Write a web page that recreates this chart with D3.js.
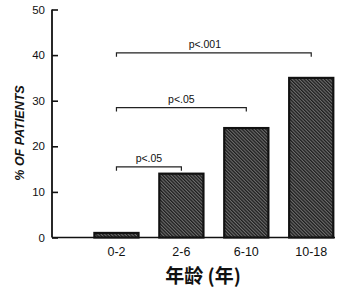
<!DOCTYPE html>
<html><head><meta charset="utf-8">
<script src="https://cdn.jsdelivr.net/npm/d3@7"></script>
<style>body{margin:0;background:#fff}svg{display:block}</style>
</head><body>
<script>
const categories = ["0-2","2-6","6-10","10-18"];
const values = [1, 14, 24, 35];
const yTicks = [0,10,20,30,40,50];
const comparisons = [
  {from:"0-2", to:"2-6", label:"p<.05", level:15.5},
  {from:"0-2", to:"6-10", label:"p<.05", level:28.5},
  {from:"0-2", to:"10-18", label:"p<.001", level:40.5}
];
const xTitle = "年龄 (年)";
const yTitle = "% OF PATIENTS";

const W=347,H=300;
const svg=d3.select("body").append("svg").attr("width",W).attr("height",H);
const defs=svg.append("defs");
const pat=defs.append("pattern").attr("id","hatch").attr("patternUnits","userSpaceOnUse")
  .attr("width",2.4).attr("height",2.4).attr("patternTransform","rotate(-45)");
pat.append("rect").attr("width",2.4).attr("height",2.4).attr("fill","#6e6e6e");
pat.append("rect").attr("width",1.3).attr("height",2.4).attr("fill","#1e1e1e");

const y=d3.scaleLinear().domain([0,50]).range([237.5,9.5]);
const x=d3.scaleBand().domain(categories).range([84,343.7]).paddingInner(0.32).paddingOuter(0.16);
const axisX=52;

// y axis
const ya=svg.append("g").attr("transform",`translate(${axisX},0)`)
  .call(d3.axisRight(y).tickValues(yTicks).tickSize(6).tickFormat(d3.format("d")));
ya.select(".domain").remove();
ya.selectAll(".tick line").attr("stroke","#111").attr("stroke-width",1.6);
ya.selectAll(".tick text").attr("x",-7).attr("text-anchor","end")
  .attr("font-family","Liberation Sans, Arial, sans-serif").attr("font-size",11.5).attr("fill","#111");
svg.append("line").attr("x1",axisX).attr("x2",axisX).attr("y1",y(50)).attr("y2",y(0))
  .attr("stroke","#111").attr("stroke-width",1.8);
// baseline
svg.append("line").attr("x1",axisX).attr("x2",335).attr("y1",y(0)).attr("y2",y(0))
  .attr("stroke","#111").attr("stroke-width",1.6);

// bars
svg.selectAll("rect.bar").data(values).join("rect").attr("class","bar")
  .attr("x",(d,i)=>x(categories[i])).attr("width",x.bandwidth())
  .attr("y",d=>y(d)).attr("height",d=>y(0)-y(d))
  .attr("fill","url(#hatch)").attr("stroke","#111").attr("stroke-width",2.2);

// x tick labels
const xa=svg.append("g").attr("transform",`translate(0,${y(0)})`)
  .call(d3.axisBottom(x).tickSize(0).tickPadding(10));
xa.select(".domain").remove();
xa.selectAll("text").attr("font-family","Liberation Sans, Arial, sans-serif").attr("font-size",12.5).attr("fill","#111");

// brackets
const bg=svg.append("g");
comparisons.forEach(c=>{
  const x1=x(c.from)+x.bandwidth()/2, x2=x(c.to)+x.bandwidth()/2, yy=y(c.level);
  bg.append("path").attr("d",`M${x1},${yy+4}V${yy}H${x2}V${yy+4}`)
    .attr("fill","none").attr("stroke","#222").attr("stroke-width",1.2);
  bg.append("text").attr("x",(x1+x2)/2 - (c.label==="p<.001"?9:0)).attr("y",yy-5).attr("text-anchor","middle")
    .attr("font-family","Liberation Sans, Arial, sans-serif").attr("font-size",10.5).attr("fill","#111")
    .text(c.label);
});

// titles
svg.append("text").attr("x",203).attr("y",283).attr("text-anchor","middle")
  .attr("font-family","Noto Sans CJK SC, sans-serif").attr("font-weight","bold").attr("font-size",19)
  .attr("fill","#111").text(xTitle);
svg.append("text").attr("transform","translate(24,133) rotate(-90)").attr("text-anchor","middle")
  .attr("font-family","Liberation Sans, Arial, sans-serif").attr("font-style","italic").attr("font-weight","bold")
  .attr("font-size",12.5).attr("fill","#111").text(yTitle);
</script>
</body></html>
